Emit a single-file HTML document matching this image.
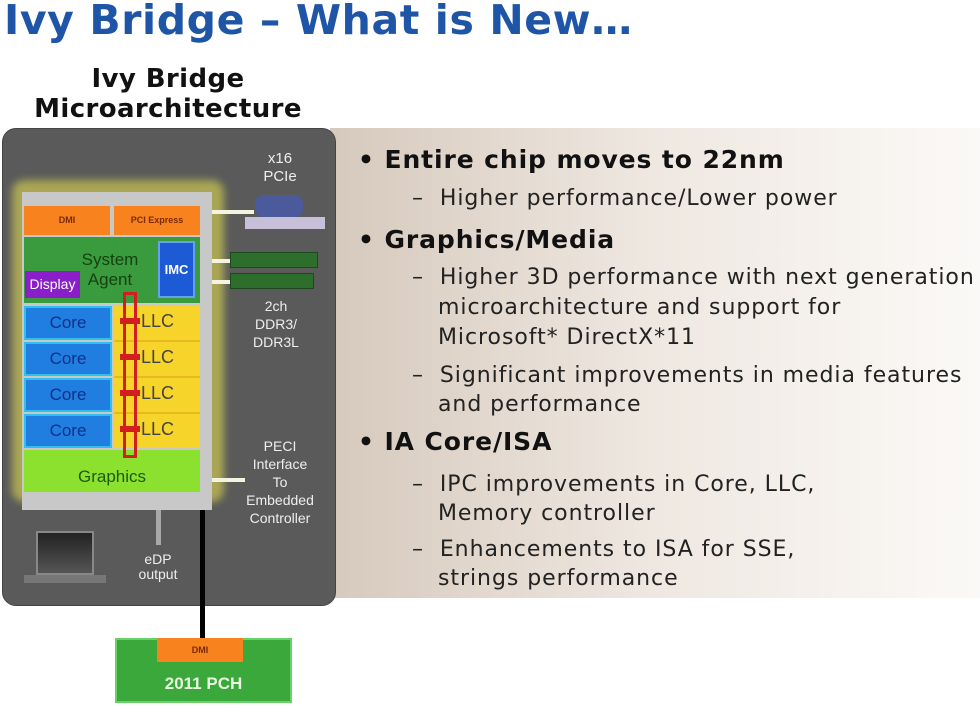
<!DOCTYPE html>
<html><head><style>
*{margin:0;padding:0;box-sizing:border-box}
body{width:980px;height:714px;background:#fff;position:relative;overflow:hidden;font-family:"DejaVu Sans","Liberation Sans",sans-serif}
.a{position:absolute}
.t{white-space:nowrap}
.s{font-family:"Liberation Sans",sans-serif;text-align:center}
.h{font-size:25px;font-weight:bold;color:#111;line-height:40px;letter-spacing:0.9px}
.b{font-size:22px;color:#222;letter-spacing:0.95px}
</style></head><body>
<div class="a t" style="left:4px;top:-4px;font-size:41px;font-weight:bold;color:#1f55a6;letter-spacing:0.6px">Ivy Bridge – What is New…</div>
<div class="a t" style="left:0;width:336px;top:64px;text-align:center;font-size:26px;font-weight:bold;line-height:30px;color:#111;letter-spacing:0.4px">Ivy Bridge<br>Microarchitecture</div>

<div class="a" style="left:330px;top:128px;width:650px;height:470px;background:linear-gradient(90deg,#d6c9bd,#efe8e1 50%,#fbf9f7)"></div>
<div class="a" style="left:2px;top:128px;width:334px;height:478px;background:#5a5a5a;border-radius:14px;border:1px solid #444"></div>

<div class="a" style="left:12px;top:180px;width:212px;height:322px;background:rgba(235,230,80,0.55);border-radius:12px;filter:blur(4px)"></div>
<div class="a" style="left:22px;top:192px;width:190px;height:318px;background:#c8c8c8"></div>
<div class="a s" style="left:24px;top:206px;width:86px;height:29px;background:#f7821e;font-size:9px;font-weight:bold;line-height:29px;color:#7a2a00">DMI</div>
<div class="a s" style="left:114px;top:206px;width:86px;height:29px;background:#f7821e;font-size:9px;font-weight:bold;line-height:29px;color:#7a2a00">PCI Express</div>
<div class="a" style="left:24px;top:237px;width:176px;height:66px;background:#3a9a3e"></div>
<div class="a s" style="left:70px;top:250px;width:80px;font-size:17px;line-height:20px;color:#15420f">System<br>Agent</div>
<div class="a s" style="left:158px;top:241px;width:37px;height:57px;background:#1c5ad6;border:2px solid #68a0f0;color:#fff;font-size:13px;font-weight:bold;line-height:53px">IMC</div>
<div class="a s" style="left:25px;top:271px;width:55px;height:27px;background:#8a1ec8;color:#fff;font-size:14px;line-height:27px">Display</div>

<div class="a s" style="left:24px;top:306px;width:88px;height:34px;background:#1f7ee0;border:2px solid #30c0f0;line-height:30px;font-size:17px;color:#10308a">Core</div>
<div class="a s" style="left:24px;top:342px;width:88px;height:34px;background:#1f7ee0;border:2px solid #30c0f0;line-height:30px;font-size:17px;color:#10308a">Core</div>
<div class="a s" style="left:24px;top:378px;width:88px;height:34px;background:#1f7ee0;border:2px solid #30c0f0;line-height:30px;font-size:17px;color:#10308a">Core</div>
<div class="a s" style="left:24px;top:414px;width:88px;height:34px;background:#1f7ee0;border:2px solid #30c0f0;line-height:30px;font-size:17px;color:#10308a">Core</div>
<div class="a" style="left:114px;top:306px;width:86px;height:142px;background:#f7d42a"></div>
<div class="a" style="left:114px;top:340px;width:86px;height:2px;background:#e8b820"></div>
<div class="a" style="left:114px;top:376px;width:86px;height:2px;background:#e8b820"></div>
<div class="a" style="left:114px;top:412px;width:86px;height:2px;background:#e8b820"></div>
<div class="a t" style="left:141px;top:311px;font-size:18px;color:#444;font-family:'Liberation Sans',sans-serif">LLC</div>
<div class="a t" style="left:141px;top:347px;font-size:18px;color:#444;font-family:'Liberation Sans',sans-serif">LLC</div>
<div class="a t" style="left:141px;top:383px;font-size:18px;color:#444;font-family:'Liberation Sans',sans-serif">LLC</div>
<div class="a t" style="left:141px;top:419px;font-size:18px;color:#444;font-family:'Liberation Sans',sans-serif">LLC</div>
<div class="a s" style="left:24px;top:450px;width:176px;height:42px;background:#8ce02e;line-height:54px;font-size:17px;color:#1c5a10">Graphics</div>
<div class="a" style="left:123px;top:292px;width:14px;height:166px;border:3px solid #d21e1e"></div>
<div class="a" style="left:120px;top:318px;width:20px;height:6px;background:#d21e1e"></div>
<div class="a" style="left:120px;top:354px;width:20px;height:6px;background:#d21e1e"></div>
<div class="a" style="left:120px;top:390px;width:20px;height:6px;background:#d21e1e"></div>
<div class="a" style="left:120px;top:426px;width:20px;height:6px;background:#d21e1e"></div>

<div class="a" style="left:212px;top:210px;width:42px;height:4px;background:#f3f3e0"></div>
<div class="a" style="left:212px;top:259px;width:20px;height:4px;background:#f3f3e0"></div>
<div class="a" style="left:212px;top:280px;width:20px;height:4px;background:#f3f3e0"></div>
<div class="a" style="left:212px;top:478px;width:33px;height:4px;background:#f3f3e0"></div>
<div class="a" style="left:156px;top:510px;width:5px;height:35px;background:#a8a8a8"></div>
<div class="a" style="left:200px;top:510px;width:5px;height:130px;background:#000"></div>

<div class="a" style="left:255px;top:195px;width:48px;height:22px;background:#4a5a9a;border-radius:8px"></div>
<div class="a" style="left:245px;top:217px;width:80px;height:12px;background:#c8c0d8"></div>
<div class="a" style="left:230px;top:252px;width:88px;height:16px;background:#2d6e2d;border:1px solid #1d4a1d"></div>
<div class="a" style="left:230px;top:273px;width:84px;height:16px;background:#2d6e2d;border:1px solid #1d4a1d"></div>
<div class="a s" style="left:240px;top:150px;width:80px;color:#eee;font-size:15px;line-height:18px">x16<br>PCIe</div>
<div class="a s" style="left:236px;top:297px;width:80px;color:#eee;font-size:14px;line-height:18px">2ch<br>DDR3/<br>DDR3L</div>
<div class="a s" style="left:230px;top:437px;width:100px;color:#eee;font-size:14px;line-height:18px">PECI<br>Interface<br>To<br>Embedded<br>Controller</div>
<div class="a s" style="left:118px;top:552px;width:80px;color:#eee;font-size:14px;line-height:15px">eDP<br>output</div>
<div class="a" style="left:36px;top:531px;width:58px;height:44px;background:linear-gradient(#222,#555);border:2px solid #888"></div>
<div class="a" style="left:24px;top:575px;width:82px;height:8px;background:#777"></div>

<div class="a s" style="left:115px;top:638px;width:177px;height:65px;background:#3aa83a;border:2px solid #6ad06a;color:#eaf5e0;font-size:17px;font-weight:bold;padding-top:34px">2011 PCH</div>
<div class="a s" style="left:157px;top:638px;width:86px;height:24px;background:#f7821e;font-size:9px;font-weight:bold;line-height:24px;color:#7a2a00">DMI</div>

<div class="a t h" style="left:358px;top:140px">• Entire chip moves to 22nm</div>
<div class="a t h" style="left:358px;top:220px">• Graphics/Media</div>
<div class="a t h" style="left:358px;top:422px">• IA Core/ISA</div>
<div class="a t b" style="left:412px;top:184px;line-height:30px">–&nbsp;&nbsp;Higher performance/Lower power</div>
<div class="a t b" style="left:412px;top:263px;line-height:30px">–&nbsp;&nbsp;Higher 3D performance with next generation<br><span style="padding-left:26px">microarchitecture and support for</span><br><span style="padding-left:26px">Microsoft* DirectX*11</span></div>
<div class="a t b" style="left:412px;top:361px;line-height:29px">–&nbsp;&nbsp;Significant improvements in media features<br><span style="padding-left:26px">and performance</span></div>
<div class="a t b" style="left:412px;top:470px;line-height:29px">–&nbsp;&nbsp;IPC improvements in Core, LLC,<br><span style="padding-left:26px">Memory controller</span></div>
<div class="a t b" style="left:412px;top:535px;line-height:29px">–&nbsp;&nbsp;Enhancements to ISA for SSE,<br><span style="padding-left:26px">strings performance</span></div>
</body></html>
